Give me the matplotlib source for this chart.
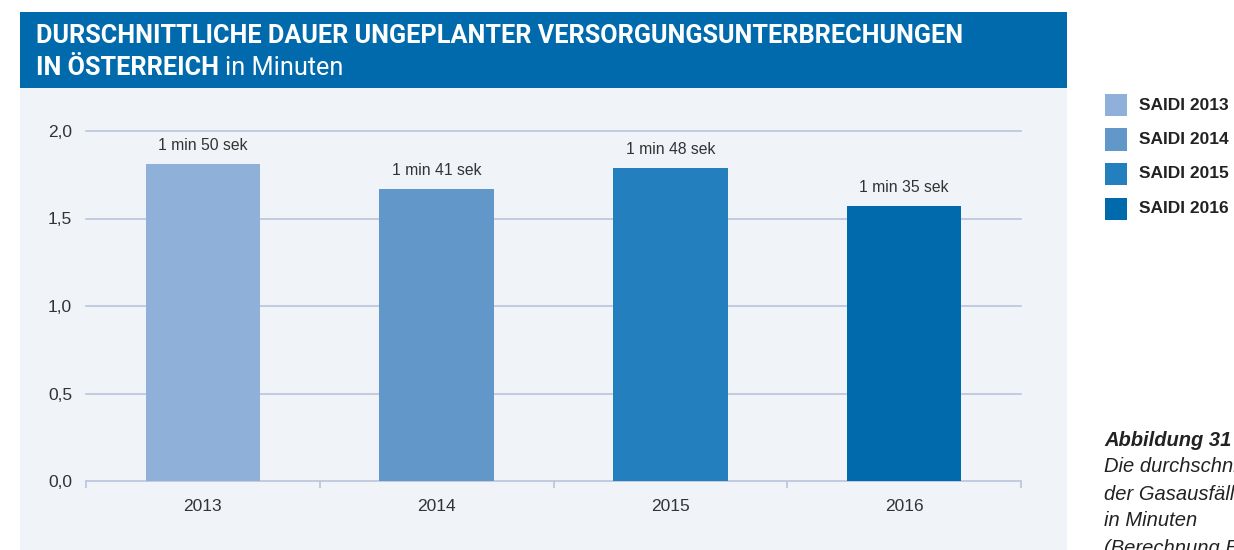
import matplotlib
matplotlib.use("Agg")
import matplotlib.pyplot as plt
from matplotlib.patches import Rectangle
from matplotlib.ticker import FixedLocator, FuncFormatter
from matplotlib import font_manager

W, H = 1234, 550
years = ["2013", "2014", "2015", "2016"]
values = [1.81, 1.67, 1.79, 1.57]
value_labels = ["1 min 50 sek", "1 min 41 sek", "1 min 48 sek", "1 min 35 sek"]
legend_labels = ["SAIDI 2013", "SAIDI 2014", "SAIDI 2015", "SAIDI 2016"]
colors = ["#8fb0d9", "#6297c9", "#237fbd", "#006aac"]
yticks = [0.0, 0.5, 1.0, 1.5, 2.0]

avail = {f.name for f in font_manager.fontManager.ttflist}
cond = "Liberation Sans Narrow" if "Liberation Sans Narrow" in avail else "Roboto"
body = ["Liberation Sans", "DejaVu Sans"]
plt.rcParams["font.family"] = body

fig = plt.figure(figsize=(W / 100, H / 100), dpi=100)
fig.patch.set_facecolor("white")

def fx(x):
    return x / W

def fy(y):
    return 1 - y / H

# panel background and header
fig.patches.append(Rectangle((fx(20), fy(550)), fx(1067) - fx(20), fy(88) - fy(550),
                             transform=fig.transFigure, facecolor="#f0f3f8", edgecolor="none", zorder=-2))
fig.patches.append(Rectangle((fx(20), fy(88)), fx(1067) - fx(20), fy(12) - fy(88),
                             transform=fig.transFigure, facecolor="#016aad", edgecolor="none", zorder=-2))

fig.text(fx(36), fy(36), "DURSCHNITTLICHE DAUER UNGEPLANTER VERSORGUNGSUNTERBRECHUNGEN",
         color="white", fontsize=18.2, fontweight="bold", family=[cond, "DejaVu Sans"], va="center", ha="left")
t1 = fig.text(fx(36), fy(68), "IN ÖSTERREICH", color="white", fontsize=18.2, fontweight="bold",
              family=[cond, "DejaVu Sans"], va="center", ha="left")
fig.canvas.draw()
bb = t1.get_window_extent()
fig.text(bb.x1 / W + fx(6), fy(68), "in Minuten", color="white", fontsize=18.2,
         family=[cond, "DejaVu Sans"], va="center", ha="left")

# axes
left, right, top, bottom = 86, 1021, 131, 481
ax = fig.add_axes([fx(left), fy(bottom), fx(right) - fx(left), fy(top) - fy(bottom)])
ax.set_zorder(2)
ax.set_facecolor("none")
x = list(range(len(years)))
ax.bar(x, values, width=0.49, color=colors, zorder=3)
for xi, v, lab in zip(x, values, value_labels):
    ax.annotate(lab, (xi, v), xytext=(0, 8), textcoords="offset points", ha="center",
                va="bottom", fontsize=11.3, color="#333333")
ax.set_xlim(-0.5, len(years) - 0.5)
ax.set_ylim(0, 2.0)
ax.yaxis.set_major_locator(FixedLocator(yticks))
ax.yaxis.set_major_formatter(FuncFormatter(lambda v, p: f"{v:.1f}".replace(".", ",")))
for yv in yticks[1:]:
    ax.axhline(yv, color="#b9c4da", lw=1.2, zorder=1, clip_on=False)
for s in ["top", "right", "left"]:
    ax.spines[s].set_visible(False)
ax.spines["bottom"].set_color("#b9c4da")
ax.spines["bottom"].set_linewidth(1.2)
ax.tick_params(axis="y", length=0, pad=10, labelsize=12.5, labelcolor="#333333")
ax.set_xticks([i - 0.5 for i in range(len(years) + 1)])
ax.set_xticklabels([])
ax.tick_params(axis="x", which="major", length=5, color="#b9c4da", width=1.2, direction="out")
ax.set_xticks(x, minor=True)
ax.set_xticklabels(years, minor=True)
ax.tick_params(axis="x", which="minor", length=0, pad=13, labelsize=12.5, labelcolor="#333333")

# legend
for i, (lab, c) in enumerate(zip(legend_labels, colors)):
    yc = 105 + i * 34.5
    fig.patches.append(Rectangle((fx(1105), fy(yc + 11)), fx(22), fy(yc - 11) - fy(yc + 11),
                                 transform=fig.transFigure, facecolor=c, edgecolor="none"))
    fig.text(fx(1139), fy(yc), lab, fontsize=12.5, fontweight="bold", color="#222222",
             va="center", ha="left")

# caption (cut off by the figure edge, as in the reference)
cap = ["Die durchschnittliche Dauer", "der Gasausfälle", "in Minuten", "(Berechnung E-Control)"]
fig.text(fx(1104), fy(440), "Abbildung 31", fontsize=14.5, fontweight="bold", style="italic",
         color="#222222", va="center", ha="left")
for i, line in enumerate(cap):
    fig.text(fx(1104), fy(467 + i * 27), line, fontsize=14.5, style="italic",
             color="#222222", va="center", ha="left")

fig.savefig("out.png", dpi=100)
